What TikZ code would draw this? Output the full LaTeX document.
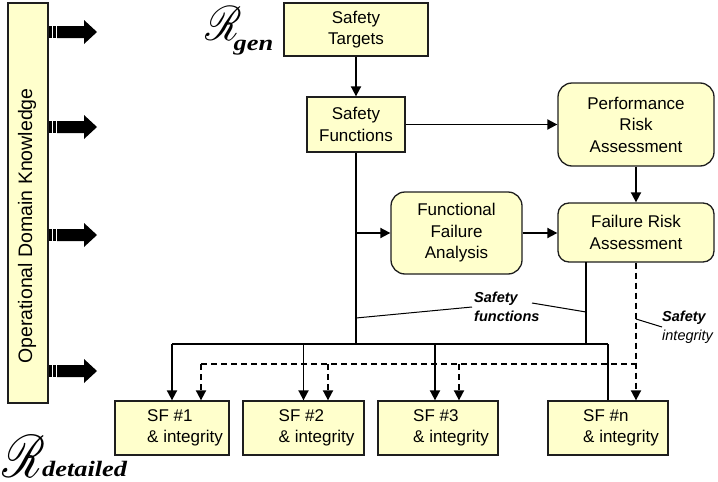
\documentclass[tikz,border=0pt]{standalone}
\usepackage{fontspec}
\setmainfont{Liberation Sans}
\newfontfamily\subface{Liberation Serif}[BoldItalicFont={* Bold Italic}]
\usepackage{mathrsfs}
\usetikzlibrary{arrows.meta,calc}

\definecolor{boxfill}{HTML}{FFFFCC}
\definecolor{boxline}{HTML}{1E1E1E}

% requirement level mark: script R (h-scale, v-scale, kern, raise) with a lowered subscript word
\newcommand{\levelmark}[5]{\scalebox{#1}[#2]{$\mathscr{R}$}\kern#3\raisebox{#4}{\scalebox{1.2}[1]{\fontsize{22}{22}\subface\bfseries\itshape #5}}}

\tikzset{
  block/.style={draw=boxline, line width=1.3pt, fill=boxfill, align=center,
    inner sep=0pt, font=\fontsize{17}{21.5}\selectfont},
  softblock/.style={block, rounded corners=14pt},
  sfbox/.style={block, align=left, minimum height=54pt},
  link/.style={line width=1.8pt},
  flow/.style={link, -{Triangle[length=10pt,width=10pt]}},
  dlink/.style={link, dash pattern=on 6pt off 4pt},
  dflow/.style={flow, dash pattern=on 6pt off 4pt},
  leader/.style={line width=1pt},
  lbl/.style={align=left, inner sep=0pt, font=\fontsize{14.5}{19}\selectfont\itshape},
  bigarrow/.style={fill=black},
  rmark/.style={inner sep=0pt, anchor=north west},
}

\begin{document}
\begin{tikzpicture}[x=1pt,y=-1pt]
  \useasboundingbox (0,0) rectangle (718,482);

  % knowledge bar on the left
  \node[block, minimum width=40pt, minimum height=400pt] (odk) at (28,203) {};
  \node[rotate=90, inner sep=0pt, font=\fontsize{19.5}{19.5}\selectfont] (odktext) at (27,226)
    {Operational Domain Knowledge};

  % striped block arrows leaving the bar
  \foreach \yy in {32,127,235,371} {
    \fill[bigarrow] (48.5,\yy-6) rectangle (51.5,\yy+6);
    \fill[bigarrow] (52.5,\yy-6) rectangle (56,\yy+6);
    \fill[bigarrow] (57,\yy-6) -- (84,\yy-6) -- (84,\yy-12) -- (97,\yy)
      -- (84,\yy+12) -- (84,\yy+6) -- (57,\yy+6) -- cycle;
  }

  % requirement level marks
  \node[rmark] (rgen) at (205,6) {\levelmark{4.0}{4.85}{-8pt}{-10pt}{gen}};
  \node[rmark] (rdet) at (2,435) {\levelmark{4.7}{6.0}{-3pt}{1pt}{detailed}};

  % process boxes
  \node[block, minimum width=144pt, minimum height=53pt] (st) at (356,29.5) {Safety\\Targets};
  \node[block, minimum width=98pt, minimum height=55pt] (sf) at (356,124.5) {Safety\\Functions};
  \node[softblock, minimum width=156pt, minimum height=83pt] (pra) at (636,124.5)
    {Performance\\Risk\\Assessment};
  \node[softblock, minimum width=131pt, minimum height=82pt] (ffa) at (456.5,233)
    {Functional\\Failure\\Analysis};
  \node[softblock, minimum width=156pt, minimum height=59pt, rounded corners=11pt] (fra) at (636,232.5)
    {Failure Risk\\Assessment};

  % detailed safety function boxes
  \node[sfbox, minimum width=114pt] (sf1) at (172,428)
    {\hspace*{26pt}SF \#1\\\hspace*{26pt}\& integrity};
  \node[sfbox, minimum width=121pt] (sf2) at (303.5,428)
    {\hspace*{26pt}SF \#2\\\hspace*{26pt}\& integrity};
  \node[sfbox, minimum width=120pt] (sf3) at (438,428)
    {\hspace*{26pt}SF \#3\\\hspace*{26pt}\& integrity};
  \node[sfbox, minimum width=120pt] (sfn) at (608,428)
    {\hspace*{26pt}SF \#n\\\hspace*{26pt}\& integrity};

  % labels
  \node[lbl, anchor=west] (sfl) at (474,306.5) {\bfseries Safety\\\bfseries functions};
  \node[lbl, anchor=west] (sil) at (662,327) {\bfseries Safety\\integrity};

  % rails
  \coordinate (busy) at (0,344);
  \coordinate (dashy) at (0,364);
  \coordinate (fratap) at (586,262);
  \coordinate (d1) at (201,0);
  \coordinate (d2) at (328,0);
  \coordinate (d3) at (459,0);
  \coordinate (s3) at (435,0);

  % main flow
  \draw[flow] (st) -- (sf);
  \draw[flow] (sf.east) -- (pra.west |- sf.east);
  \draw[flow] (pra) -- (fra);
  \draw[link] (sf.south) -- (sf.south |- busy);
  \draw[flow] (sf.south |- ffa.west) -- (ffa.west);
  \draw[flow] (ffa.east) -- (fra.west |- ffa.east);
  \draw[link] (fratap) -- (fratap |- busy);

  % safety function bus
  \draw[link] (sf1.north |- busy) -- (sfn.north |- busy);
  \draw[flow] (sf1.north |- busy) -- (sf1.north);
  \draw[flow] (sf2.north |- busy) -- (sf2.north);
  \draw[flow] (s3 |- busy) -- (s3 |- sf3.north);
  \draw[link] (sfn.north |- busy) -- (sfn.north);

  % safety integrity bus
  \draw[dflow] (fra.south) -- (fra.south |- sfn.north);
  \draw[dlink] (d1 |- dashy) -- (fra.south |- dashy);
  \draw[dflow] (d1 |- dashy) -- (d1 |- sf1.north);
  \draw[dflow] (d2 |- dashy) -- (d2 |- sf2.north);
  \draw[dflow] (d3 |- dashy) -- (d3 |- sf3.north);

  % label leaders
  \draw[leader] (sf.south |- 0,318) -- (472,307);
  \draw[leader] (532,303) -- (fratap |- 0,312);
  \draw[leader] (fra.south |- 0,319) -- (sil.west);
\end{tikzpicture}
\end{document}
